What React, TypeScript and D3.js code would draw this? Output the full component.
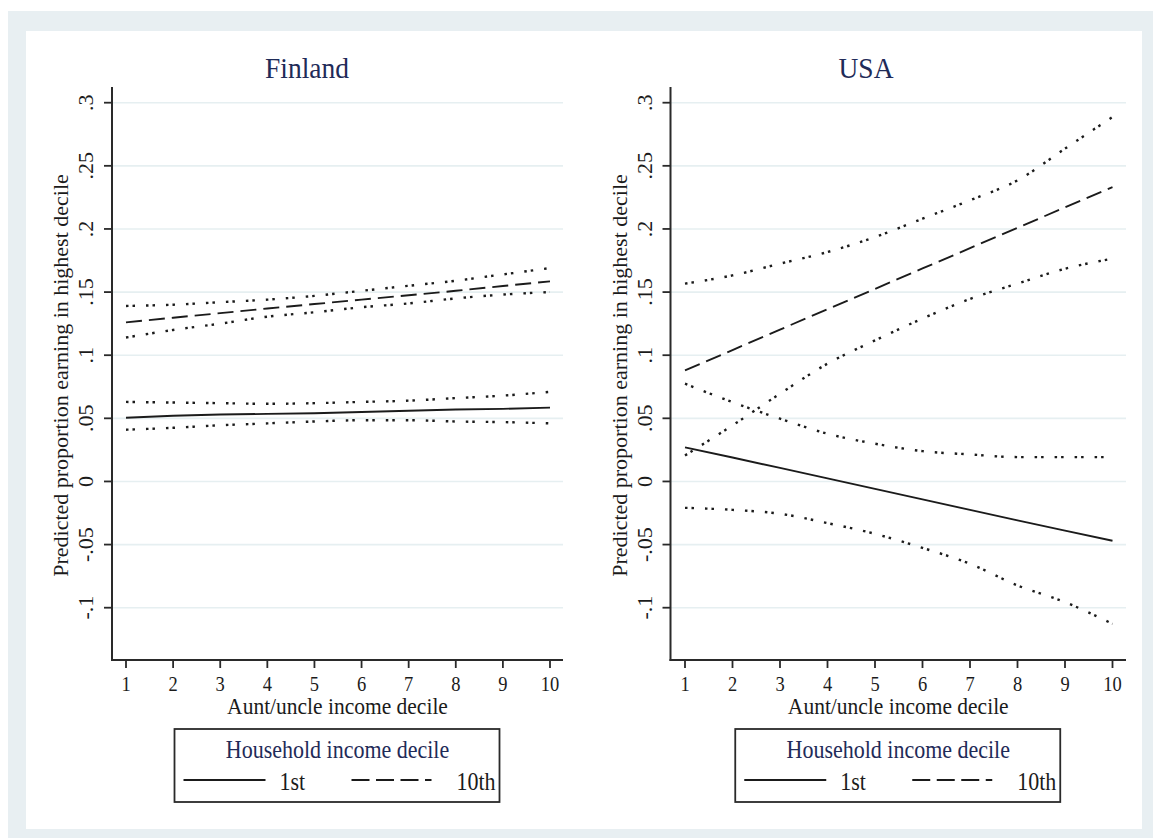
import React from 'react';
import * as d3 from 'd3';

// aunt/uncle income decile
const deciles = [1, 2, 3, 4, 5, 6, 7, 8, 9, 10];
const yTicks = [-0.1, -0.05, 0, 0.05, 0.1, 0.15, 0.2, 0.25, 0.3];
const yTickLabels = ['-.1', '-.05', '0', '.05', '.1', '.15', '.2', '.25', '.3'];

// Finland
const fin1st = [0.0505, 0.052, 0.053, 0.0535, 0.054, 0.055, 0.056, 0.057, 0.0575, 0.0585];
const fin1stHi = [0.063, 0.0625, 0.062, 0.0615, 0.062, 0.063, 0.064, 0.066, 0.068, 0.071];
const fin1stLo = [0.041, 0.0425, 0.0445, 0.046, 0.0475, 0.0485, 0.0485, 0.0475, 0.047, 0.046];
const fin10th = [0.126, 0.1297, 0.1333, 0.137, 0.1405, 0.144, 0.1475, 0.151, 0.1548, 0.1585];
const fin10thHi = [0.139, 0.14, 0.142, 0.144, 0.147, 0.151, 0.155, 0.159, 0.164, 0.169];
const fin10thLo = [0.114, 0.12, 0.125, 0.1305, 0.134, 0.138, 0.141, 0.145, 0.148, 0.15];

// USA
const usa1st = [0.027, 0.019, 0.0107, 0.0024, -0.0059, -0.0142, -0.0225, -0.0308, -0.039, -0.047];
const usa1stHi = [0.0774, 0.0628, 0.0497, 0.0378, 0.0299, 0.024, 0.0214, 0.0193, 0.0193, 0.0193];
const usa1stLo = [-0.0209, -0.0225, -0.0256, -0.033, -0.0415, -0.0526, -0.0652, -0.0824, -0.0956, -0.1128];
const usa10th = [0.088, 0.1041, 0.1203, 0.1364, 0.1525, 0.1687, 0.1848, 0.2009, 0.2171, 0.2332];
const usa10thHi = [0.1567, 0.1632, 0.1725, 0.1817, 0.1936, 0.2081, 0.2227, 0.2385, 0.2636, 0.2887];
const usa10thLo = [0.0206, 0.0444, 0.0695, 0.0933, 0.1117, 0.129, 0.1446, 0.1567, 0.1685, 0.1765];

const FONT = '"Liberation Serif", "Times New Roman", serif';
const INK = '#1b1b1b';
const NAVY = '#1f2b58';

const y = d3.scaleLinear().domain([-0.1, 0.3]).range([607.7, 102.7]);
const plotTop = 87;
const plotBottom = 660;

const HText = ({ x, y, size, k = 1.1, anchor = 'middle', fill = INK, children }: any) => (
  <text
    transform={`translate(${x},${y}) scale(1,${k})`}
    fontSize={size}
    fontFamily={FONT}
    textAnchor={anchor}
    fill={fill}
  >
    {children}
  </text>
);

const DOT = '2.5 4 2.5 11';
const DASH = '16 7';

type PanelProps = {
  title: string;
  titleX: number;
  axisX: number;
  x1: number;
  x10: number;
  xEnd: number;
  series: { lo: number[]; mid: number[]; hi: number[]; dash: string | null }[];
};

const Panel = ({ title, titleX, axisX, x1, x10, xEnd, series }: PanelProps) => {
  const x = d3.scaleLinear().domain([1, 10]).range([x1, x10]);
  const line = (vals: number[], smooth: boolean) =>
    d3
      .line<number>()
      .x((_, i) => x(deciles[i]))
      .y(v => y(v))
      .curve(smooth ? d3.curveMonotoneX : d3.curveLinear)(vals) || '';
  const midX = (axisX + xEnd) / 2;
  const legL = midX - 163;
  const legR = midX + 162;

  return (
    <g>
      <HText x={titleX} y={78} size={27.5} k={1.09} fill={NAVY}>{title}</HText>

      {/* grid */}
      {yTicks.map(t => (
        <line key={'g' + t} x1={axisX} x2={xEnd} y1={y(t)} y2={y(t)} stroke="#e6eff1" strokeWidth={1.6} />
      ))}

      {/* series */}
      {series.map((s, i) => (
        <g key={i} fill="none" stroke={INK}>
          <path d={line(s.hi, true)} strokeWidth={2.4} strokeDasharray={DOT} />
          <path d={line(s.lo, true)} strokeWidth={2.4} strokeDasharray={DOT} />
          <path d={line(s.mid, false)} strokeWidth={1.9} strokeDasharray={s.dash || undefined} />
        </g>
      ))}

      {/* axes */}
      <line x1={axisX} x2={axisX} y1={plotTop} y2={plotBottom + 1} stroke="#2a2a2a" strokeWidth={2} />
      <line x1={axisX - 1} x2={xEnd} y1={plotBottom} y2={plotBottom} stroke="#2a2a2a" strokeWidth={2} />
      {yTicks.map((t, i) => (
        <g key={'y' + t}>
          <line x1={axisX - 8} x2={axisX} y1={y(t)} y2={y(t)} stroke="#2a2a2a" strokeWidth={1.8} />
          <text
            transform={`translate(${axisX - 19},${y(t)}) rotate(-90)`}
            fontSize={22}
            fontFamily={FONT}
            textAnchor="middle"
            fill={INK}
          >
            {yTickLabels[i]}
          </text>
        </g>
      ))}
      {deciles.map(d => (
        <g key={'x' + d}>
          <line x1={x(d)} x2={x(d)} y1={plotBottom} y2={plotBottom + 8} stroke="#2a2a2a" strokeWidth={1.8} />
          <HText x={x(d)} y={691} size={18.5} k={1.12}>{d}</HText>
        </g>
      ))}
      <HText x={midX} y={714} size={21.5} k={1.04}>Aunt/uncle income decile</HText>
      <text
        transform={`translate(${axisX - 44},${(plotTop + plotBottom) / 2 + 2}) rotate(-90)`}
        fontSize={22}
        fontFamily={FONT}
        textAnchor="middle"
        fill={INK}
      >
        Predicted proportion earning in highest decile
      </text>

      {/* legend */}
      <rect x={legL} y={729} width={legR - legL} height={73} fill="white" stroke="#2a2a2a" strokeWidth={1.8} />
      <HText x={midX} y={758} size={22} k={1.1} fill={NAVY}>Household income decile</HText>
      <line x1={legL + 9} x2={legL + 91} y1={780} y2={780} stroke={INK} strokeWidth={1.9} />
      <HText x={legL + 105} y={790} size={22} k={1.1} anchor="start">1st</HText>
      <line x1={legL + 177} x2={legL + 257} y1={780} y2={780} stroke={INK} strokeWidth={1.9} strokeDasharray="18 6.5" />
      <HText x={legR - 4} y={790} size={22} k={1.1} anchor="end">10th</HText>
    </g>
  );
};

export default function App() {
  return (
    <svg
      width={1153}
      height={838}
      style={{ position: 'absolute', left: 0, top: 0, background: 'white' }}
    >
      <rect x={8} y={11} width={1145} height={827} fill="#e8eff2" />
      <rect x={26} y={31} width={1116} height={798} fill="white" />
      <Panel
        title="Finland"
        titleX={307}
        axisX={112}
        x1={126}
        x10={550}
        xEnd={563}
        series={[
          { lo: fin1stLo, mid: fin1st, hi: fin1stHi, dash: null },
          { lo: fin10thLo, mid: fin10th, hi: fin10thHi, dash: DASH },
        ]}
      />
      <Panel
        title="USA"
        titleX={866}
        axisX={670.5}
        x1={685}
        x10={1112.5}
        xEnd={1126}
        series={[
          { lo: usa1stLo, mid: usa1st, hi: usa1stHi, dash: null },
          { lo: usa10thLo, mid: usa10th, hi: usa10thHi, dash: DASH },
        ]}
      />
    </svg>
  );
}
